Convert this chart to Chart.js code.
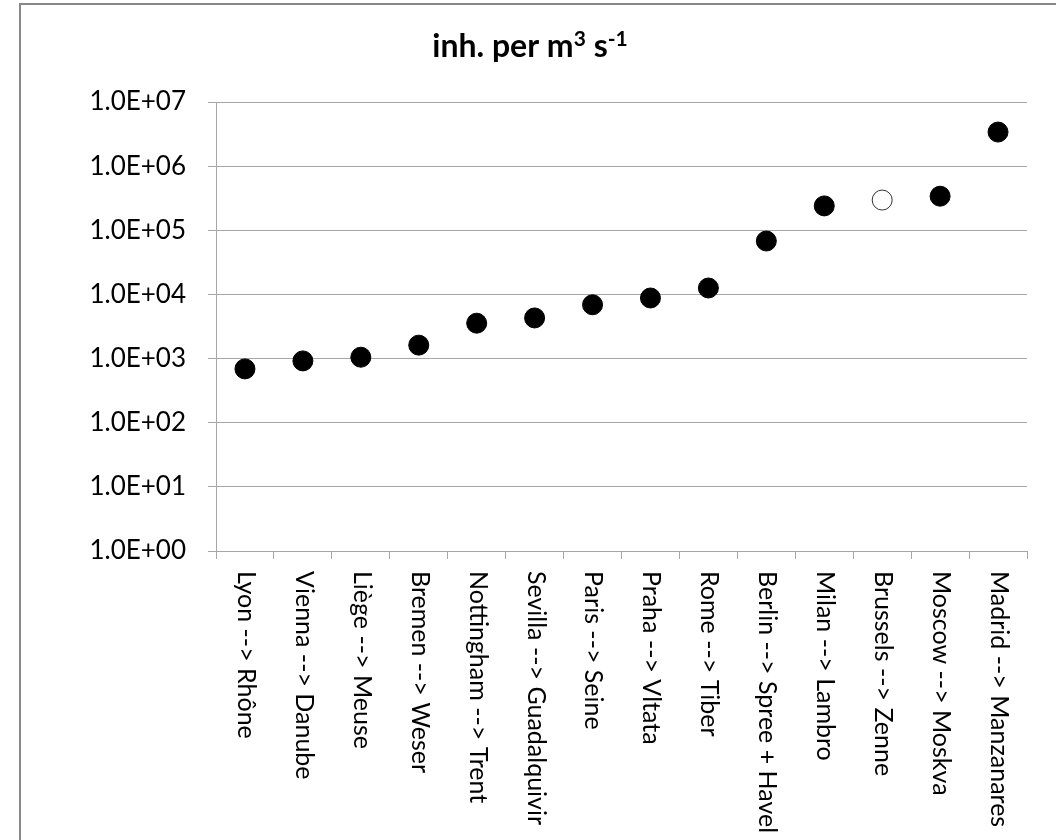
<!DOCTYPE html>
<html>
<head>
<meta charset="utf-8">
<script src="https://cdn.jsdelivr.net/npm/chart.js@4"></script>
<style>
  html, body { margin: 0; padding: 0; background: #fff; }
  #wrap { width: 1056px; height: 840px; }
</style>
</head>
<body>
<div id="wrap"><canvas id="c" width="1056" height="840"></canvas></div>
<script>
// title pieces: [text, isSuperscript]
const titleParts = [['inh. per m', false], ['3', true], [' s', false], ['-1', true]];
const categories = [
  'Lyon --> Rhône', 'Vienna --> Danube', 'Liège --> Meuse', 'Bremen --> Weser',
  'Nottingham --> Trent', 'Sevilla --> Guadalquivir', 'Paris --> Seine', 'Praha --> Vltata',
  'Rome --> Tiber', 'Berlin --> Spree + Havel', 'Milan --> Lambro', 'Brussels --> Zenne',
  'Moscow --> Moskva', 'Madrid --> Manzanares'
];
const inhabitantsPerDischarge = [
  690, 920, 1050, 1620, 3560, 4300, 6900, 8800,
  12600, 68000, 240000, 296000, 340000, 3400000
];
const openMarkerCategories = ['Brussels --> Zenne'];
const yTickValues = [1, 10, 100, 1000, 10000, 100000, 1000000, 10000000];
const yTickLabels = ['1.0E+00', '1.0E+01', '1.0E+02', '1.0E+03', '1.0E+04', '1.0E+05', '1.0E+06', '1.0E+07'];

const FONT = "Lato, 'Open Sans', 'DejaVu Sans', sans-serif";
const GRID = '#a6a6a6';

const frameTitleLabels = {
  id: 'frameTitleLabels',
  beforeDraw(chart) {
    const ctx = chart.ctx;
    ctx.save();
    ctx.fillStyle = '#ffffff';
    ctx.fillRect(0, 0, chart.width, chart.height);
    ctx.strokeStyle = '#888888';
    ctx.lineWidth = 2;
    ctx.strokeRect(20, 4, chart.width + 20, chart.height + 20);
    ctx.restore();
  },
  afterDraw(chart) {
    const ctx = chart.ctx;
    const xs = chart.scales.x;
    ctx.save();
    // title with real superscripts
    const mainFont = "bold 32px " + FONT;
    const supFont = "bold 21px " + FONT;
    let total = 0;
    titleParts.forEach(([t, sup]) => { ctx.font = sup ? supFont : mainFont; total += ctx.measureText(t).width; });
    let tx = 530 - total / 2;
    const baseY = 57;
    ctx.fillStyle = '#000000';
    ctx.textAlign = 'left';
    ctx.textBaseline = 'alphabetic';
    titleParts.forEach(([t, sup]) => {
      ctx.font = sup ? supFont : mainFont;
      ctx.fillText(t, tx, sup ? baseY - 11 : baseY);
      tx += ctx.measureText(t).width;
    });
    // rotated category labels (reading top to bottom)
    ctx.font = "25px " + FONT;
    ctx.textBaseline = 'middle';
    categories.forEach((lab, i) => {
      const x = xs.getPixelForValue(i);
      ctx.save();
      ctx.translate(x + 1, xs.top + 20);
      ctx.rotate(Math.PI / 2);
      ctx.fillText(lab, 0, 0);
      ctx.restore();
    });
    ctx.restore();
  }
};

new Chart(document.getElementById('c'), {
  type: 'line',
  data: {
    labels: categories,
    datasets: [{
      data: inhabitantsPerDischarge,
      showLine: false,
      pointRadius: 10,
      pointHoverRadius: 10,
      pointBorderWidth: 1,
      pointBackgroundColor: ctx => openMarkerCategories.includes(categories[ctx.dataIndex]) ? '#ffffff' : '#000000',
      pointBorderColor: ctx => openMarkerCategories.includes(categories[ctx.dataIndex]) ? '#333333' : '#000000'
    }]
  },
  options: {
    responsive: false,
    animation: false,
    events: [],
    layout: { padding: { left: 0, right: 29, top: 102, bottom: 0 } },
    plugins: {
      legend: { display: false },
      tooltip: { enabled: false },
      title: { display: false }
    },
    scales: {
      x: {
        type: 'category',
        offset: true,
        grid: { offset: true, drawOnChartArea: false, drawTicks: true, tickLength: 8, color: GRID, lineWidth: 1 },
        border: { color: GRID, width: 1 },
        ticks: { display: false },
        afterFit(scale) { scale.height = 840 - 551; }
      },
      y: {
        type: 'logarithmic',
        min: 1,
        max: 10000000,
        afterBuildTicks(scale) { scale.ticks = yTickValues.map(v => ({ value: v, major: false })); },
        afterFit(scale) { scale.width = 216; },
        grid: { color: GRID, lineWidth: 1, tickLength: 8, drawTicks: true },
        border: { color: GRID, width: 1 },
        ticks: {
          color: '#000000',
          padding: 22,
          font: { family: FONT, size: 26 },
          callback: (v) => { const i = yTickValues.indexOf(v); return i >= 0 ? yTickLabels[i] : ''; }
        }
      }
    }
  },
  plugins: [frameTitleLabels]
});
</script>
</body>
</html>
